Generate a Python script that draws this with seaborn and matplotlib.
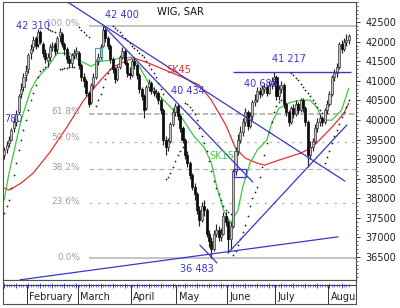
import numpy as np
import pandas as pd
import seaborn as sns
import matplotlib
matplotlib.use("Agg")
import matplotlib.pyplot as plt
from matplotlib.patches import Rectangle
from matplotlib.ticker import MultipleLocator

# ---------------- data ----------------
MONTHS = ["February", "March", "April", "May", "June", "July", "August"]
MONTH_DAYS = [10, 21, 22, 19, 21, 20, 22, 9]  # trading days: Jan (partial), Feb .. Aug (partial)

OPEN = [39100, 39250, 39400, 39500, 39800, 39950, 40200, 40650, 40850, 41150,
        41300, 41700, 41850, 42100, 41950, 42250, 41950, 41700, 41500, 41600,
        41850, 41950, 41800, 42150, 42200, 41950, 41800, 41550, 41450, 41650,
        41700, 41700, 41400, 41100, 41000, 40700, 40450, 40900, 41100, 41500,
        41600, 41900, 42300, 42100, 41900, 41550, 41300, 41050, 41350, 41600,
        41750, 41450, 41200, 41150, 41500, 41400, 41150, 40800, 40600, 40300,
        40850, 40950, 40750, 40650, 40700, 40500, 40250, 39500, 39300, 39450,
        39900, 40200, 40350, 40100, 39800, 39500, 39100, 38900, 38600, 38300,
        38100, 37700, 37450, 37800, 37700, 37100, 36900, 36700, 37100, 37200,
        37000, 37100, 37550, 37400, 36950, 37300, 38700, 39200, 39500, 39700,
        39950, 40200, 39850, 40100, 40450, 40500, 40750, 40650, 40800, 40850,
        40700, 40900, 41000, 41100, 40600, 40800, 40900, 40400, 40200, 39950,
        40300, 40150, 40400, 40250, 40500, 40300, 39950, 39100, 39300, 39450,
        39800, 39950, 40050, 39950, 40250, 40400, 40650, 41100, 41200, 41350,
        41950, 41800, 42000, 42050]
CLOSE = [39230, 39350, 39480, 39750, 39950, 40150, 40600, 40800, 41100, 41250,
         41650, 41800, 42050, 41900, 42250, 42000, 41700, 41550, 41600, 41850,
         41900, 41750, 42100, 42250, 41950, 41800, 41550, 41450, 41650, 41700,
         41750, 41400, 41100, 41000, 40700, 40400, 40900, 41100, 41500, 41600,
         41850, 42300, 42100, 41900, 41550, 41300, 41050, 41350, 41600, 41750,
         41450, 41200, 41150, 41500, 41400, 41150, 40800, 40600, 40250, 40850,
         40950, 40750, 40700, 40700, 40500, 40250, 39500, 39300, 39450, 39900,
         40200, 40350, 40100, 39800, 39500, 39100, 38900, 38600, 38300, 38100,
         37700, 37450, 37800, 37700, 37100, 36900, 36700, 37100, 37200, 37000,
         37100, 37550, 37400, 36950, 37300, 38700, 39200, 39500, 39700, 39950,
         40200, 39850, 40100, 40450, 40500, 40750, 40650, 40800, 40850, 40700,
         40900, 41000, 41100, 40600, 40800, 40900, 40400, 40200, 39950, 40300,
         40150, 40400, 40250, 40500, 40300, 39950, 39100, 39300, 39450, 39800,
         39950, 40050, 39950, 40250, 40400, 40650, 41100, 41200, 41350, 41950,
         41800, 42000, 42050, 42150]
HIGH = [39300, 39450, 39600, 39800, 40050, 40250, 40650, 40950, 41200, 41400,
        41700, 41950, 42150, 42150, 42310, 42300, 42000, 41800, 41700, 41950,
        42000, 42000, 42150, 42350, 42250, 42000, 41850, 41650, 41700, 41800,
        41850, 41750, 41450, 41200, 41050, 40750, 40950, 41200, 41550, 41700,
        41950, 42400, 42350, 42150, 41950, 41600, 41350, 41400, 41650, 41850,
        41800, 41500, 41350, 41550, 41600, 41450, 41200, 40850, 40650, 40900,
        41050, 41000, 40850, 40800, 40750, 40550, 40300, 39600, 39550, 39950,
        40300, 40434, 40400, 40150, 39850, 39550, 39200, 38950, 38650, 38400,
        38150, 37800, 37900, 37950, 37750, 37200, 37000, 37200, 37350, 37300,
        37250, 37650, 37650, 37450, 37400, 38750, 39300, 39650, 39850, 40050,
        40300, 40250, 40200, 40500, 40650, 40850, 40850, 40900, 40950, 40900,
        41000, 41100, 41217, 41150, 40900, 41000, 40950, 40450, 40250, 40350,
        40400, 40500, 40450, 40550, 40550, 40350, 40000, 39450, 39550, 39900,
        40050, 40150, 40100, 40300, 40500, 40750, 41150, 41300, 41450, 42000,
        42050, 42100, 42200, 42200]
LOW = [39000, 39150, 39300, 39450, 39700, 39850, 40150, 40550, 40750, 41000,
       41200, 41550, 41750, 41800, 41850, 41950, 41600, 41450, 41350, 41500,
       41750, 41650, 41700, 42000, 41850, 41650, 41450, 41350, 41350, 41550,
       41600, 41300, 41000, 40850, 40600, 40320, 40400, 40800, 41050, 41400,
       41550, 41850, 42000, 41800, 41450, 41200, 40950, 41000, 41300, 41550,
       41400, 41100, 41050, 41100, 41300, 41050, 40700, 40500, 40050, 40250,
       40750, 40650, 40600, 40550, 40400, 40150, 39350, 39100, 39200, 39400,
       39850, 40100, 40000, 39700, 39400, 39000, 38800, 38500, 38200, 37950,
       37600, 37300, 37400, 37550, 37000, 36750, 36483, 36650, 37000, 36900,
       36900, 37050, 37300, 36600, 36700, 37250, 38600, 39100, 39400, 39600,
       39850, 39750, 39800, 40000, 40350, 40450, 40550, 40600, 40700, 40600,
       40650, 40800, 40900, 40500, 40500, 40700, 40300, 40100, 39850, 39900,
       40050, 40100, 40150, 40200, 40200, 39850, 38800, 39000, 39200, 39400,
       39700, 39850, 39850, 39900, 40150, 40350, 40600, 41000, 41100, 41300,
       41700, 41750, 41900, 41950]

SK15_DAY = [0, 2, 7, 11, 14, 18, 22, 27, 31, 36, 40, 44, 48, 53, 56, 60, 65, 69, 73,
            79, 83, 86, 88, 91, 94, 97, 99, 102, 105, 109, 111, 114, 119, 123, 127,
            130, 132, 136, 140, 143]
SK15_VAL = [37954, 38642, 39994, 40759, 41090, 41345, 41702, 41702, 41524, 41371,
            41498, 41524, 41575, 41600, 41371, 40937, 40580, 40325, 40121, 39560,
            39300, 38900, 38350, 37699, 37367, 37699, 38285, 38897, 39229, 39484,
            39917, 40300, 40453, 40504, 40504, 40300, 39994, 39994, 40249, 40810]

SK45_DAY = [0, 2, 7, 12, 19, 26, 33, 40, 45, 51, 54, 59, 67, 74, 81, 86, 92, 96,
            100, 105, 108, 114, 123, 128, 132, 136, 141, 143]
SK45_VAL = [38260, 38209, 38387, 38642, 39178, 39815, 40504, 41014, 41345, 41524,
            41575, 41473, 41269, 41090, 40886, 40504, 39866, 39280, 39025, 38897,
            38846, 38974, 39152, 39305, 39560, 39815, 40172, 40427]

SAR_DAY = list(range(0, 18)) + list(range(18, 22)) + list(range(23, 30)) + \
    list(range(31, 36)) + list(range(38, 45)) + list(range(45, 67)) + \
    list(range(67, 75)) + list(range(75, 95)) + list(range(95, 116)) + \
    list(range(119, 133)) + list(range(133, 144))
SAR_VAL = [37620, 37800, 37950, 38250, 38600, 38900, 39240, 39500, 39750, 40000,
           40250, 40500, 40700, 40900, 41100, 41250, 41300, 41350,
           42310, 42300, 42280, 42250,
           41300, 41310, 41320, 41330, 41340, 41350, 41360,
           42370, 42300, 42240, 42180, 42110,
           40350, 40500, 40650, 40850, 41050, 41200, 41300,
           42400, 42350, 42300, 42250, 42180, 42100, 42030, 41960, 41900, 41840,
           41780, 41720, 41670, 41600, 41500, 41400, 41300, 41200, 41100, 40950,
           40800, 40650,
           38500, 38550, 38650, 38800, 38950, 39100, 39200, 39300,
           40434, 40400, 40330, 40250, 40150, 40000, 39800, 39600, 39400, 39200,
           38950, 38700, 38450, 38250, 38100, 37950, 37800, 37700, 37650, 37600,
           36550, 36650, 36800, 36950, 37140, 37320, 37550, 37800, 38000, 38150,
           38300, 38550, 38800, 39100, 39400, 39700, 39950, 40200, 40350, 40450,
           40500,
           41200, 41140, 41080, 41020, 40930, 40840, 40760, 40690, 40600, 40510,
           40420, 40330, 40250, 40180,
           38900, 39050, 39200, 39400, 39600, 39750, 39900, 40070, 40200, 40325,
           40500]

FIB_LOW, FIB_HIGH = 36483, 42400
FIB_LEVELS = [0.0, 23.6, 38.2, 50.0, 61.8, 100.0]
Y_TICKS = [36500, 37000, 37500, 38000, 38500, 39000, 39500, 40000, 40500,
           41000, 41500, 42000, 42500]

# ---------------- figure ----------------
W, H = 400, 308
sns.set_theme(style="white")
plt.rcParams["font.family"] = ["DejaVu Sans"]
fig = plt.figure(figsize=(W / 100, H / 100), dpi=100)
fig.patch.set_facecolor("white")


def fx(x):
    return x / W


def fy(y):
    return 1 - y / H


ax = fig.add_axes([fx(3), fy(280), 353 / W, 278 / H])
ax2 = fig.add_axes([fx(3), fy(304), 353 / W, 24 / H])
XL = (-0.5, 146.0)
ax.set_xlim(*XL)
ax.set_ylim(35913, 43011)

n = len(CLOSE)
days = np.arange(n)
BLUE = "#3838c8"

# Fibonacci retracement levels
fib_styles = {0.0: ("-", 1.1), 23.6: ((0, (2, 5)), 0.9), 38.2: ((0, (4, 3)), 0.9),
              50.0: ((0, (2, 4)), 0.9), 61.8: ((0, (3, 1.5)), 1.3), 100.0: ("-", 1.1)}
fib_text_y = {0.0: 257, 23.6: 202, 38.2: 167, 50.0: 138, 61.8: 111, 100.0: 23.5}
for lv in FIB_LEVELS:
    val = FIB_LOW + (FIB_HIGH - FIB_LOW) * lv / 100
    ls, lw = fib_styles[lv]
    ax.hlines(val, 35, XL[1], colors="#b4b4b4", linestyles=ls, lw=lw, zorder=1)
    fig.text(fx(80), fy(fib_text_y[lv]), f"{lv:.1f}%", color="#a0a0a0",
             fontsize=6.5, ha="right", va="center")

# moving averages
df15 = pd.DataFrame({"day": SK15_DAY, "val": SK15_VAL})
df45 = pd.DataFrame({"day": SK45_DAY, "val": SK45_VAL})
sns.lineplot(data=df45, x="day", y="val", ax=ax, color="#e83030", lw=0.9,
             sort=False, zorder=3)
sns.lineplot(data=df15, x="day", y="val", ax=ax, color="#3ec83e", lw=0.9,
             sort=False, zorder=3)

# candles
up = np.array(CLOSE) >= np.array(OPEN)
ax.vlines(days, LOW, HIGH, color="#252525", lw=0.85, zorder=4)
bottoms = np.minimum(OPEN, CLOSE)
heights = np.maximum(np.abs(np.array(CLOSE) - np.array(OPEN)), 35)
ax.bar(days[up], heights[up], bottom=bottoms[up], width=0.85,
       color="#c4c4c4", edgecolor="#383838", lw=0.5, zorder=5)
ax.bar(days[~up], heights[~up], bottom=bottoms[~up], width=0.85,
       color="#0a0a0a", edgecolor="#0a0a0a", lw=0.5, zorder=5)

# SAR
dsar = pd.DataFrame({"day": SAR_DAY, "sar": SAR_VAL})
sns.scatterplot(data=dsar, x="day", y="sar", ax=ax, color="#202020", s=1.6,
                marker="o", linewidth=0, zorder=6)

# trend lines
TREND = [((25.2, 43053), (141.4, 38438)),
         ((41.0, 42416), (103.2, 38413)),
         ((6.5, 35917), (138.5, 37015)),
         ((92.9, 36602), (142.2, 39870)),
         ((81.2, 36806), (88.3, 36347))]
for (x0, y0), (x1, y1) in TREND:
    ax.plot([x0, x1], [y0, y1], color=BLUE, lw=0.9, zorder=7)
ax.hlines(41217, 95, 144, colors=BLUE, lw=1.0, zorder=7)
ax.add_patch(Rectangle((37.7, 41524), 2.9, 306, fill=False,
                       edgecolor="#40a8a8", lw=0.8, zorder=8))
ax.add_patch(Rectangle((95.4, 38540), 4.9, 210, fill=False,
                       edgecolor=BLUE, lw=0.9, zorder=8))

# axis styling
ax.set_xlabel("")
ax.set_ylabel("")
ax.set_xticks([])
ax.yaxis.tick_right()
ax.set_yticks(Y_TICKS)
ax.set_yticklabels([str(v) for v in Y_TICKS])
ax.yaxis.set_minor_locator(MultipleLocator(100))
ax.tick_params(axis="y", which="major", direction="out", length=3, width=0.6,
               pad=4, labelsize=7, colors="#202020", right=True, left=False)
ax.tick_params(axis="y", which="minor", direction="out", length=1.5, width=0.5,
               right=True, left=False)
for s in ax.spines.values():
    s.set_color("#505050")
    s.set_linewidth(0.8)

# labels
fig.text(fx(157), fy(12), "WIG, SAR", fontsize=7.2, color="#101010",
         ha="left", va="center")
lab = dict(fontsize=7.0, ha="left", va="center")
fig.text(fx(16), fy(26), "42 310", color=BLUE, **lab)
fig.text(fx(105), fy(15), "42 400", color=BLUE, **lab)
fig.text(fx(166), fy(70), "SK45", color="#e03030", **lab)
fig.text(fx(171), fy(91), "40 434", color=BLUE, **lab)
fig.text(fx(4), fy(119), "780", color=BLUE, **lab)
fig.text(fx(272), fy(59), "41 217", color=BLUE, **lab)
fig.text(fx(244), fy(84), "40 688", color=BLUE, **lab)
fig.text(fx(209), fy(156), "SK15", color="#44d044", **lab)
fig.text(fx(180), fy(269), "36 483", color=BLUE, **lab)

# date strip
ax2.set_xlim(*XL)
ax2.set_ylim(24, 0)
ax2.set_xticks([])
ax2.set_yticks([])
for s in ax2.spines.values():
    s.set_color("#505050")
    s.set_linewidth(0.8)
ax2.axhline(5, color="#303050", lw=0.7)
ax2.vlines(days, 3.5, 6.5, color=BLUE, lw=0.5)
ax2.vlines(days[::5], 2.5, 7.5, color=BLUE, lw=0.6)
starts = np.cumsum(MONTH_DAYS)[:-1]
for name, st in zip(MONTHS, starts):
    ax2.vlines(st - 0.5, 5, 24, color="#303030", lw=0.7)
    ax2.text(st + 0.4, 17, name, fontsize=7, color="#202020",
             ha="left", va="center", clip_on=True)

fig.savefig("out.png", dpi=100, facecolor="white")
